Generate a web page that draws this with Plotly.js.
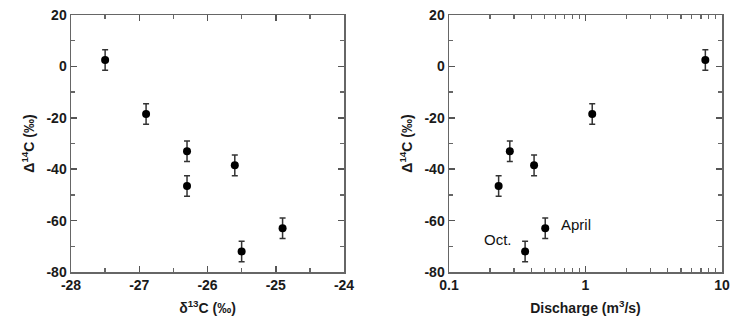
<!DOCTYPE html>
<html>
<head>
<meta charset="utf-8">
<script src="https://cdn.plot.ly/plotly-3.0.1.min.js"></script>
<style>html,body{margin:0;padding:0;background:#fff;}#chart{width:744px;height:324px;}</style>
</head>
<body>
<div id="chart"></div>
<script>
// Data
const delta13C = [-27.5, -26.9, -26.3, -26.3, -25.6, -25.5, -24.9];
const delta14C = [2.5, -18.5, -33, -46.5, -38.5, -72, -63];
const discharge = [7.55, 1.12, 0.279, 0.231, 0.42, 0.361, 0.507];
const errors = [4, 4, 4, 4, 4, 4, 4];
const noteLabels = ['Oct.', 'April'];
const noteX = [0.361, 0.507];
const noteY = [-72, -63];

// Tick labels
const x1TickVals = [-28, -27, -26, -25, -24];
const x1TickText = ['-28', '-27', '-26', '-25', '-24'];
const yTickVals = [-80, -60, -40, -20, 0, 20];
const yTickText = ['-80', '-60', '-40', '-20', '0', '20'];
const x2TickVals = [0.1, 1, 10];
const x2TickText = ['0.1', '1', '10'];

const family = 'Liberation Sans, Arial, sans-serif';
const tickFont = {family: family, size: 14, color: '#1a1a1a', weight: 'bold'};
const titleFont = {family: family, size: 14, color: '#1a1a1a', weight: 'bold'};
const noteFont = {family: family, size: 15, color: '#111'};
const markerStyle = {color: '#000', size: 8, symbol: 'circle'};
const errStyle = (arr) => ({type: 'data', array: arr, visible: true, color: '#333', thickness: 1.5, width: 3});

const traces = [
  {x: delta13C, y: delta14C, mode: 'markers', type: 'scatter', marker: markerStyle,
   error_y: errStyle(errors), xaxis: 'x', yaxis: 'y', showlegend: false},
  {x: discharge, y: delta14C, mode: 'markers', type: 'scatter', marker: markerStyle,
   error_y: errStyle(errors), xaxis: 'x2', yaxis: 'y2', showlegend: false}
];

const axisCommon = {
  showgrid: false, zeroline: false, showline: true, linecolor: '#666', linewidth: 1.5,
  mirror: 'ticks', ticks: 'inside', ticklen: 6, tickwidth: 1.5, tickcolor: '#555',
  tickfont: tickFont
};
const minorStyle = {ticks: 'inside', ticklen: 4, tickwidth: 1.3, tickcolor: '#666'};

const layout = {
  width: 744, height: 324,
  margin: {l: 0, r: 0, t: 15, b: 52},
  paper_bgcolor: '#fff', plot_bgcolor: '#fff',
  font: {family: family, size: 14, color: '#111'},
  showlegend: false,
  xaxis: Object.assign({}, axisCommon, {
    domain: [71/744, 344/744], range: [-28, -24], anchor: 'y',
    tickmode: 'array', tickvals: x1TickVals, ticktext: x1TickText,
    minor: Object.assign({dtick: 0.5, tick0: -28}, minorStyle),
    title: {text: 'δ<sup>13</sup>C (‰)', font: titleFont, standoff: 11}
  }),
  yaxis: Object.assign({}, axisCommon, {
    domain: [0, 1], range: [-80, 20], anchor: 'x',
    tickmode: 'array', tickvals: yTickVals, ticktext: yTickText,
    minor: Object.assign({dtick: 10, tick0: -80}, minorStyle),
    title: {text: 'Δ<sup>14</sup>C (‰)', font: titleFont, standoff: 8}
  }),
  xaxis2: Object.assign({}, axisCommon, {
    domain: [449/744, 722/744], type: 'log', range: [-1, 1], anchor: 'y2',
    tickmode: 'array', tickvals: x2TickVals, ticktext: x2TickText,
    minor: Object.assign({dtick: 'D1'}, minorStyle),
    title: {text: 'Discharge (m<sup>3</sup>/s)', font: titleFont, standoff: 11}
  }),
  yaxis2: Object.assign({}, axisCommon, {
    domain: [0, 1], range: [-80, 20], anchor: 'x2',
    tickmode: 'array', tickvals: yTickVals, ticktext: yTickText,
    minor: Object.assign({dtick: 10, tick0: -80}, minorStyle),
    title: {text: 'Δ<sup>14</sup>C (‰)', font: titleFont, standoff: 8}
  }),
  annotations: [
    {x: Math.log10(noteX[0]), y: noteY[0], xref: 'x2', yref: 'y2', text: noteLabels[0],
     showarrow: false, xanchor: 'right', xshift: -11, yshift: 12, font: noteFont},
    {x: Math.log10(noteX[1]), y: noteY[1], xref: 'x2', yref: 'y2', text: noteLabels[1],
     showarrow: false, xanchor: 'left', xshift: 14, yshift: 4, font: noteFont}
  ]
};

Plotly.newPlot('chart', traces, layout, {staticPlot: true});
</script>
</body>
</html>
